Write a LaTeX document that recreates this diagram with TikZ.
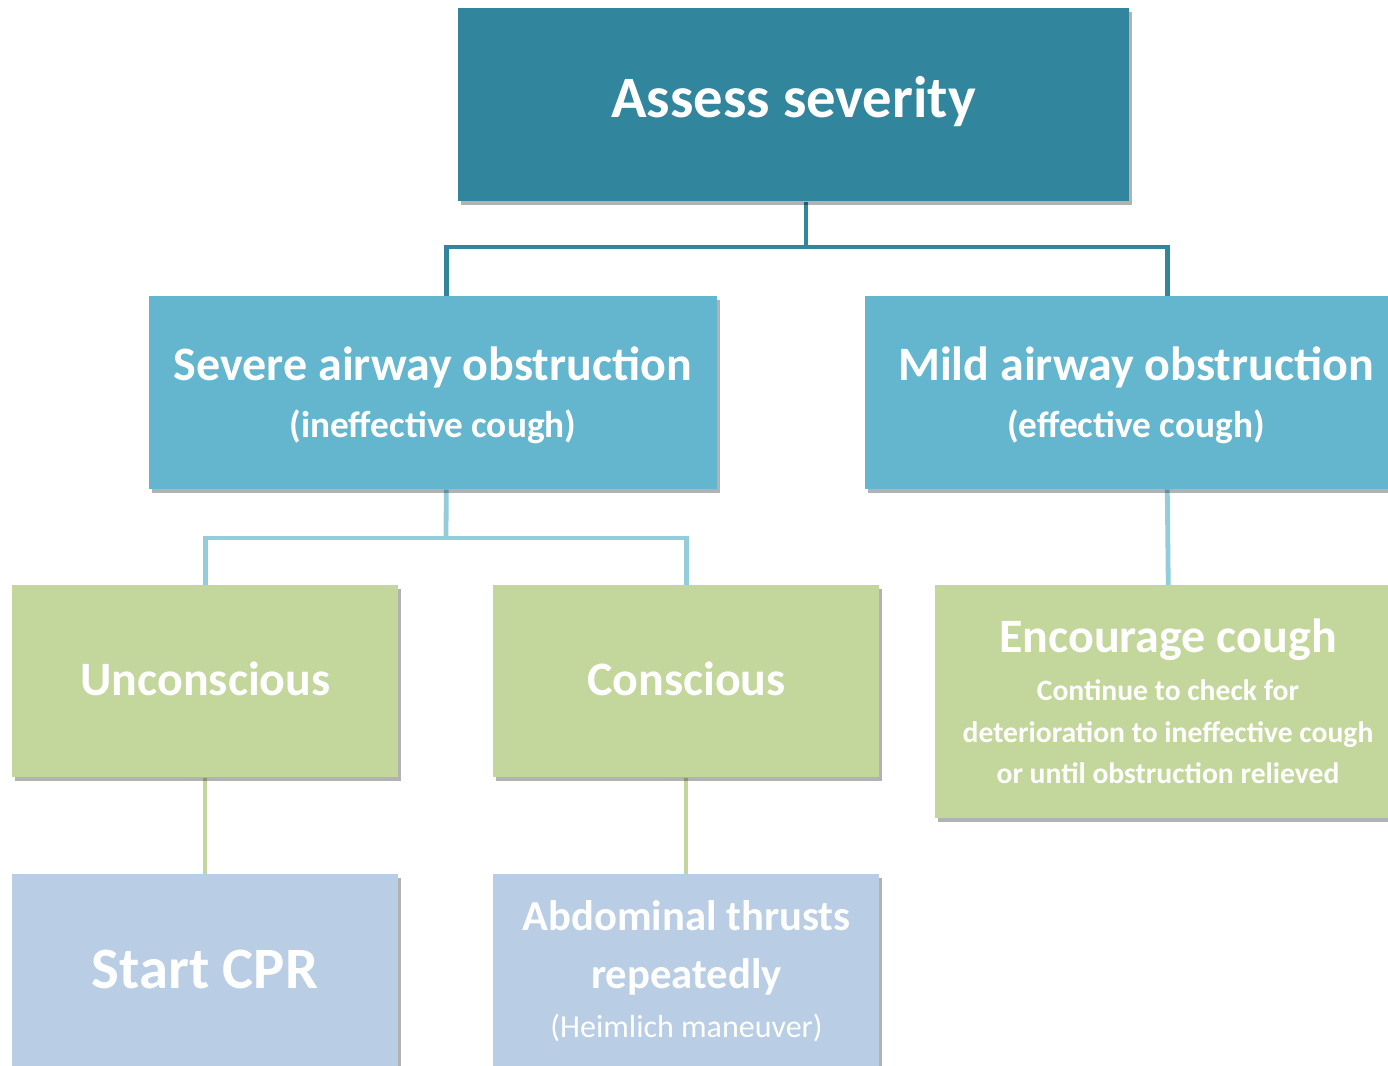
\documentclass[tikz,border=0pt]{standalone}
\usepackage{fontspec}
\setmainfont{Carlito}
\usetikzlibrary{shadows,backgrounds}
\definecolor{cteal}{RGB}{49,133,156}
\definecolor{caqua}{RGB}{100,181,206}
\definecolor{clight}{RGB}{146,205,220}
\definecolor{cgreen}{RGB}{195,214,155}
\definecolor{cblue}{RGB}{185,205,229}
\tikzset{
  box/.style={draw=none, rectangle, anchor=north west, inner sep=0pt,
    drop shadow={shadow xshift=2pt, shadow yshift=-2.5pt, opacity=0.3, fill=black}},
  txt/.style={text=white, anchor=base, inner sep=0pt},
  big/.style={font=\bfseries\fontsize{44}{50}\selectfont},
  mid/.style={font=\bfseries\fontsize{36}{42}\selectfont},
  par/.style={font=\bfseries\fontsize{28}{32}\selectfont},
  sub/.style={font=\bfseries\fontsize{22.2}{26}\selectfont},
  lnA/.style={draw=cteal, line width=3.6pt},
  lnB/.style={draw=clight, line width=3.6pt},
  lnC/.style={draw=cgreen, line width=3pt}
}
\begin{document}
\begin{tikzpicture}[x=0.75pt,y=-0.75pt]
\useasboundingbox (0,0) rectangle (1388,1066);
\clip (0,0) rectangle (1388,1066);
% boxes
\node[box, fill=cteal, minimum width=503.25pt, minimum height=144.75pt] (top) at (458,8) {};
\node[box, fill=caqua, minimum width=426pt, minimum height=144.75pt] (sev) at (149,296) {};
\node[box, fill=caqua, minimum width=406.5pt, minimum height=144.75pt] (mild) at (865,296) {};
\node[box, fill=cgreen, minimum width=289.5pt, minimum height=144pt] (unc) at (12,585) {};
\node[box, fill=cgreen, minimum width=289.5pt, minimum height=144pt] (con) at (493,585) {};
\node[box, fill=cgreen, minimum width=349.5pt, minimum height=174.75pt] (enc) at (935,585) {};
\node[box, fill=cblue, minimum width=289.5pt, minimum height=150pt] (cpr) at (12,874) {};
\node[box, fill=cblue, minimum width=289.5pt, minimum height=150pt] (abd) at (493,874) {};
% texts
\node[txt, big] (tA) at (793.5,118) {Assess severity};
\node[txt, mid] (tS1) at (433,380) {Severe airway obstruction};
\node[txt, par] (tS2) at (433,437) {(ineffective cough)};
\node[txt, mid] (tM1) at (1136,380) {Mild airway obstruction};
\node[txt, par] (tM2) at (1136,437) {(effective cough)};
\node[txt, mid] (tU) at (205.5,695) {Unconscious};
\node[txt, mid] (tC) at (686.5,695) {Conscious};
\node[txt, mid] (tE1) at (1168,652) {Encourage cough};
\node[txt, sub] (tE2) at (1168,700) {Continue to check for};
\node[txt, sub] (tE3) at (1168,742) {deterioration to ineffective cough};
\node[txt, sub] (tE4) at (1168,783) {or until obstruction relieved};
\node[txt, big] (tP) at (205,988) {Start CPR};
\node[txt, font=\bfseries\fontsize{32}{36}\selectfont] (tB1) at (686.5,930) {Abdominal thrusts};
\node[txt, font=\bfseries\fontsize{32}{36}\selectfont] (tB2) at (686.5,988) {repeatedly};
\node[txt, font=\fontsize{24}{28}\selectfont] (tB3) at (686.5,1037) {(Heimlich maneuver)};
% connectors
\coordinate (b1) at (806,247);
\coordinate (b2) at (446,538);
\begin{scope}[on background layer]
\draw[lnA] (top.south -| b1) -- (b1);
\draw[lnA] ([xshift=9.75pt]sev.north) |- (b1) -| ([xshift=23.25pt]mild.north);
\draw[lnB] ([xshift=9.75pt]sev.south) -- (b2);
\draw[lnB] (unc.north) |- (b2) -| (con.north);
\draw[lnB] ([xshift=23.25pt]mild.south) -- (enc.north);
\draw[lnC] (unc.south) -- (cpr.north);
\draw[lnC] (con.south) -- (abd.north);
\end{scope}
\end{tikzpicture}
\end{document}
